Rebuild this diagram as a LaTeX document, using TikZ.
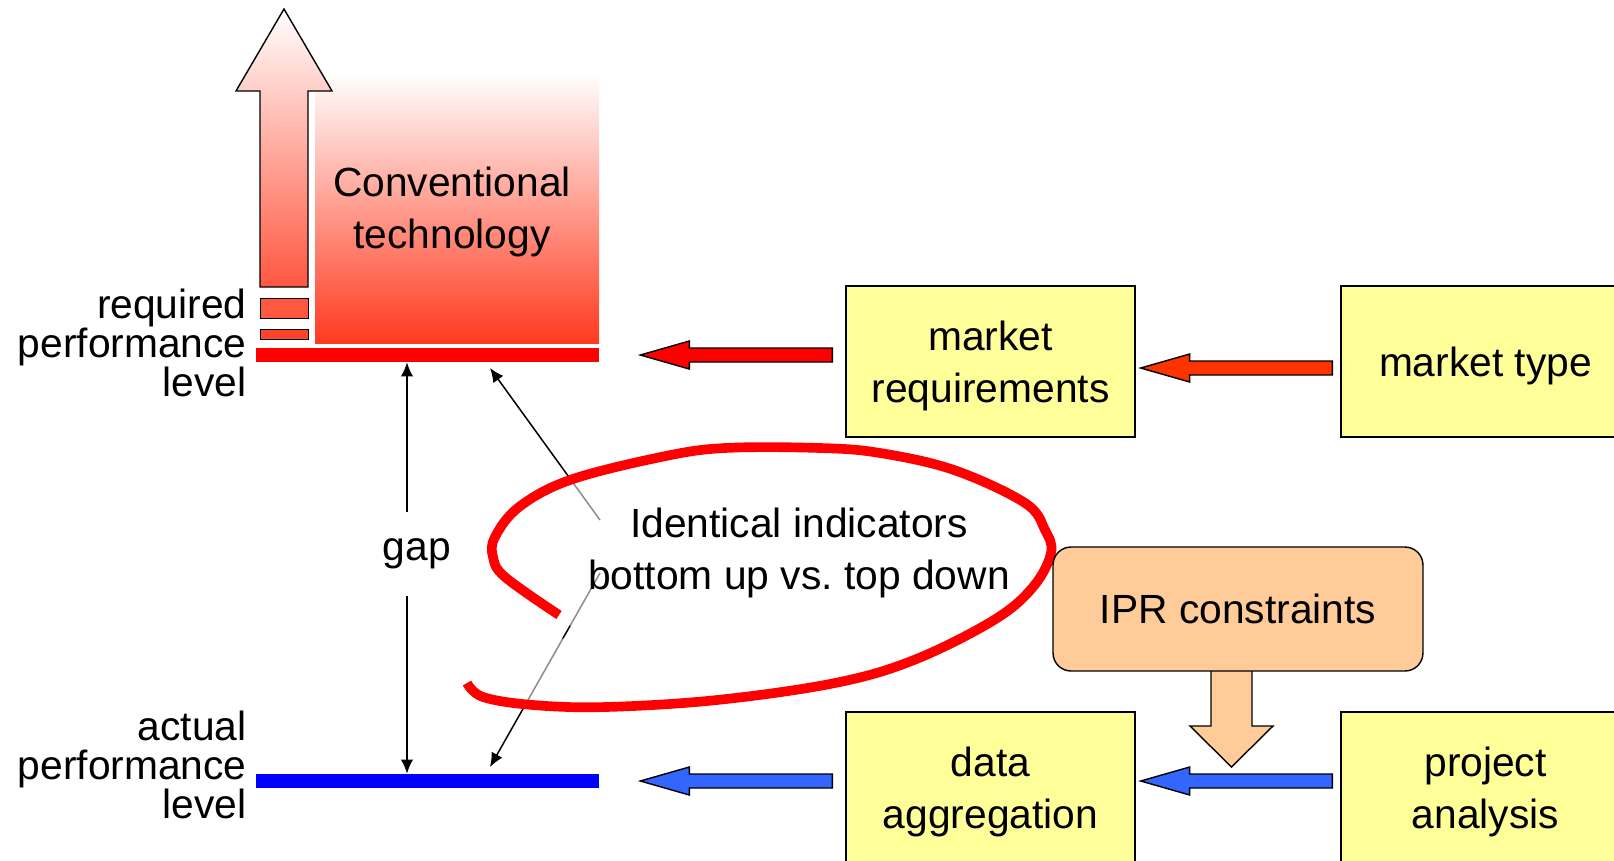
\documentclass[tikz,border=0pt]{standalone}
\usepackage{fontspec}
\setmainfont{Liberation Sans}
\usetikzlibrary{arrows.meta,calc}

\definecolor{boxyellow}{RGB}{255,255,153}
\definecolor{iprorange}{RGB}{255,204,153}
\definecolor{techred}{RGB}{255,58,31}
\definecolor{arrowred}{RGB}{255,0,0}
\definecolor{arroworange}{RGB}{255,51,0}
\definecolor{arrowblue}{RGB}{51,102,255}
\definecolor{levelblue}{RGB}{0,0,255}

% left pointing block arrow: tail, tip, fill
\newcommand\blkarrow[3]{%
  \draw[fill=#3, line width=0.8pt] ($(#1)+(0,-7)$) -- ($(#2)+(49,-7)$) -- ($(#2)+(49,-14)$) -- (#2)
    -- ($(#2)+(49,14)$) -- ($(#2)+(49,7)$) -- ($(#1)+(0,7)$) -- cycle;}

\tikzset{
  every node/.style={font=\fontsize{23.2}{29.5}\selectfont},
  box/.style={draw, line width=0.8pt, fill=boxyellow, minimum width=5.78cm, minimum height=3.02cm, align=center, inner sep=0pt, text depth=0pt},
  levelbar/.style={minimum width=6.86cm, minimum height=0.28cm, inner sep=0pt},
  sidelabel/.style={anchor=east, align=right, inner sep=0pt, font=\fontsize{23.2}{22.2}\selectfont},
  thinarrow/.style={line width=0.85pt, -{Latex[length=8pt,width=7pt]}},
  redloop/.style={insert path={plot[smooth, tension=0.6] coordinates {(467,683) (483,697) (533,705) (606,707) (717,700) (835,683) (914,660) (994,620) (1033,587) (1051,553) (1045,530) (1025,503) (954,470) (880,453) (820,448) (725,448) (661,457) (570,480) (519,507) (495,537) (493,557) (505,577) (559,615)}}}
}

\begin{document}
\begin{tikzpicture}[x=0.02cm, y=-0.02cm]
  \clip (0,0) rectangle (1614,860);

  % conventional technology
  \shade[top color=white, bottom color=techred] (315,73) rectangle (599,343);
  \node[align=center, text depth=0pt] (conv) at (452,208) {Conventional\\technology};

  \shadedraw[line width=0.8pt, top color=white, bottom color=techred!85!white]
    (260,287) -- (260,91) -- (236,91) -- (284,9) -- (332,91) -- (308,91) -- (308,287) -- cycle;
  \draw[fill=techred!85!white] (260,298) rectangle (308,318);
  \draw[fill=techred!95!white] (260,329) rectangle (308,339);

  % performance levels
  \node[levelbar, fill=red] (req) at (427.5,355) {};
  \node[levelbar, fill=levelblue] (act) at (427.5,781) {};
  \node[sidelabel] (reqlbl) at (247,343) {required\\performance\\level};
  \node[sidelabel] (actlbl) at (247,765) {actual\\performance\\level};

  % gap
  \coordinate (gx) at (407,0);
  \node[inner xsep=0pt, inner ysep=0.52cm] (gap) at (417,554) {gap};
  \draw[thinarrow] (gap.north -| gx) -- (req.south -| gx);
  \draw[thinarrow] (gap.south -| gx) -- (act.north -| gx);

  % indicators
  \coordinate (reqpt) at (490,368);
  \coordinate (actpt) at (490,767);
  \coordinate (indup) at (600,520);
  \coordinate (inddn) at (600,573);
  \draw[thinarrow] (indup) -- (reqpt);
  \draw[thinarrow] (inddn) -- (actpt);

  \path[fill=white, fill opacity=0.55, redloop] -- (577,632) -- cycle;
  \draw[red, line width=5.5pt, redloop];
  \node[align=center, text depth=0pt] (ind) at (799,549) {Identical indicators\\bottom up vs.\ top down};

  % boxes
  \node[box] (mreq) at (990.5,361.5) {market\\requirements};
  \node[box] (mtype) at (1485.5,361.5) {market type};
  \node[box] (dagg) at (990.5,787.5) {data\\aggregation};
  \node[box] (proj) at (1485.5,787.5) {project\\analysis};

  \coordinate (dtop) at (1231.5,671);
  \draw[fill=iprorange, line width=0.8pt] ($(dtop)+(-20.5,0)$) -- ($(dtop)+(-20.5,55)$) -- ($(dtop)+(-41.5,55)$)
    -- ($(dtop)+(0,96)$) -- ($(dtop)+(41.5,55)$) -- ($(dtop)+(20.5,55)$) -- ($(dtop)+(20.5,0)$);
  \node[box, fill=iprorange, rounded corners=0.36cm, minimum width=7.4cm, minimum height=2.48cm, text depth=] (ipr) at (1238,609) {IPR constraints};

  % block arrows
  \coordinate (rtail1) at ($(mreq.west |- req)+(-13,0)$);
  \coordinate (rtip1) at ($(req.east)+(41,0)$);
  \coordinate (rtail2) at ($(mtype.west)+(-8,6.5)$);
  \coordinate (rtip2) at ($(mreq.east)+(5,6.5)$);
  \coordinate (btail1) at ($(dagg.west |- act)+(-13,0)$);
  \coordinate (btip1) at ($(act.east)+(41,0)$);
  \coordinate (btail2) at ($(proj.west |- act)+(-8,0)$);
  \coordinate (btip2) at ($(dagg.east |- act)+(5,0)$);
  \blkarrow{rtail1}{rtip1}{arrowred}
  \blkarrow{rtail2}{rtip2}{arroworange}
  \blkarrow{btail1}{btip1}{arrowblue}
  \blkarrow{btail2}{btip2}{arrowblue}

\end{tikzpicture}
\end{document}
